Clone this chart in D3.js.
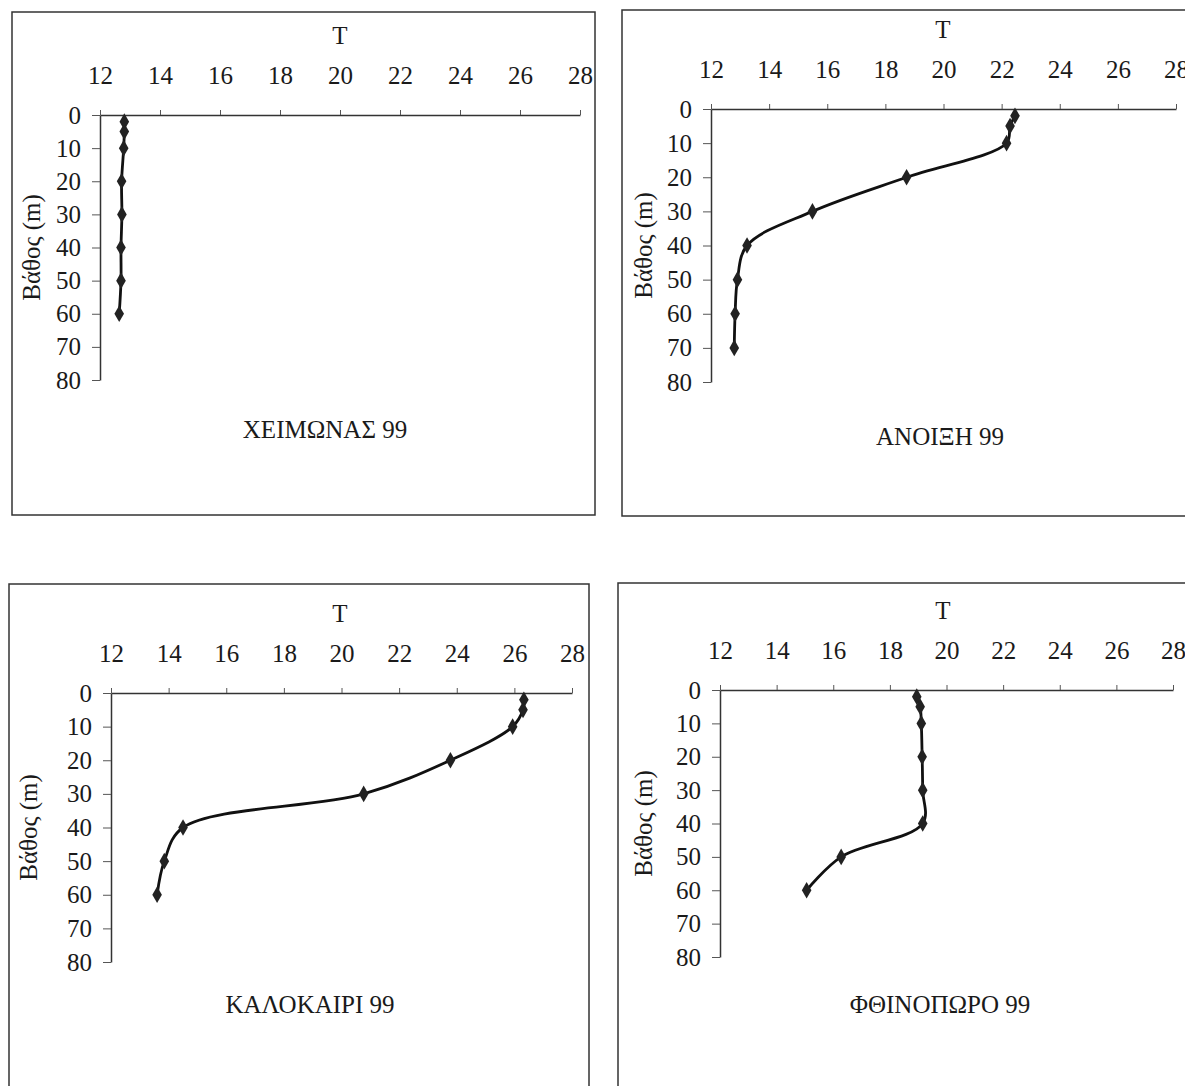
<!DOCTYPE html>
<html>
<head>
<meta charset="utf-8">
<script src="https://cdn.jsdelivr.net/npm/d3@7"></script>
<style>
  html, body { margin: 0; padding: 0; background: #fff; }
  svg { display: block; }
  text { font-family: "Liberation Serif", "Times New Roman", serif; fill: #1a1a1a; }
</style>
</head>
<body>
<svg id="chart" width="1185" height="1086"></svg>
<script>
// ---- data ----
const xTicks = [12, 14, 16, 18, 20, 22, 24, 26, 28];
const yTicks = [0, 10, 20, 30, 40, 50, 60, 70, 80];
const depthsWinter = [2, 5, 10, 20, 30, 40, 50, 60];
const tempWinter   = [12.81, 12.81, 12.79, 12.72, 12.73, 12.70, 12.70, 12.64];
const depthsSpring = [2, 5, 10, 20, 30, 40, 50, 60, 70];
const tempSpring   = [22.46, 22.29, 22.17, 18.73, 15.49, 13.24, 12.91, 12.83, 12.80];
const depthsSummer = [2, 5, 10, 20, 30, 40, 50, 60];
const tempSummer   = [26.33, 26.30, 25.94, 23.78, 20.77, 14.50, 13.85, 13.60];
const depthsAutumn = [2, 5, 10, 20, 30, 40, 50, 60];
const tempAutumn   = [18.95, 19.07, 19.11, 19.14, 19.16, 19.16, 16.28, 15.06];
const titles = ["ΧΕΙΜΩΝΑΣ 99", "ΑΝΟΙΞΗ 99", "ΚΑΛΟΚΑΙΡΙ 99", "ΦΘΙΝΟΠΩΡΟ 99"];
const xLabel = "T";
const yLabel = "Βάθος (m)";

// ---- layout (per panel) ----
const layouts = [
  { box: [12, 12, 583, 503],  x0: 100, x1: 580,  y0: 115, y1: 380, titleX: 325, titleY: 438, yLabX: 40,  tX: 340 },
  { box: [622, 10, 600, 506], x0: 711, x1: 1176, y0: 109, y1: 382, titleX: 940, titleY: 445, yLabX: 652, tX: 943 },
  { box: [9, 584, 580, 520],  x0: 111, x1: 572,  y0: 693, y1: 962, titleX: 310, titleY: 1013, yLabX: 37,  tX: 340 },
  { box: [618, 583, 600, 520], x0: 720, x1: 1173, y0: 690, y1: 957, titleX: 940, titleY: 1013, yLabX: 652, tX: 943 }
];
const series = [
  { d: depthsWinter, t: tempWinter },
  { d: depthsSpring, t: tempSpring },
  { d: depthsSummer, t: tempSummer },
  { d: depthsAutumn, t: tempAutumn }
];

const svg = d3.select("#chart");

layouts.forEach((L, i) => {
  const g = svg.append("g");
  g.append("rect")
    .attr("x", L.box[0]).attr("y", L.box[1])
    .attr("width", L.box[2]).attr("height", L.box[3])
    .attr("fill", "none").attr("stroke", "#333").attr("stroke-width", 1.5);

  const x = d3.scaleLinear().domain([12, 28]).range([L.x0, L.x1]);
  const y = d3.scaleLinear().domain([0, 80]).range([L.y0, L.y1]);

  const xAxis = g.append("g")
    .attr("transform", `translate(0,${L.y0})`)
    .call(d3.axisTop(x).tickValues(xTicks).tickSizeInner(5).tickSizeOuter(0).tickPadding(26).tickFormat(d3.format("d")));
  const yAxis = g.append("g")
    .attr("transform", `translate(${L.x0},0)`)
    .call(d3.axisLeft(y).tickValues(yTicks).tickSizeInner(8).tickSizeOuter(0).tickPadding(11).tickFormat(d3.format("d")));

  [xAxis, yAxis].forEach(a => {
    a.select(".domain").attr("stroke", "#333").attr("stroke-width", 1.5);
    a.selectAll(".tick line").attr("stroke", "#555").attr("stroke-width", 1);
    a.selectAll(".tick text").attr("font-size", 25).attr("fill", "#1a1a1a")
      .style("font-family", '"Liberation Serif", serif');
  });

  // axis title T
  g.append("text").attr("x", L.tX).attr("y", L.y0 - 71)
    .attr("text-anchor", "middle").attr("font-size", 25).text(xLabel);

  // y label
  const yc = (L.y0 + L.y1) / 2;
  g.append("text")
    .attr("transform", `translate(${L.yLabX},${yc}) rotate(-90)`)
    .attr("text-anchor", "middle").attr("font-size", 25).text(yLabel);

  // title
  g.append("text").attr("x", L.titleX)
    .attr("y", L.titleY).attr("text-anchor", "middle").attr("font-size", 25).text(titles[i]);

  // line
  const s = series[i];
  const pts = s.d.map((dv, k) => [s.t[k], dv]);
  const line = d3.line().x(p => x(p[0])).y(p => y(p[1])).curve(d3.curveCatmullRom.alpha(0.5));
  g.append("path").datum(pts).attr("d", line)
    .attr("fill", "none").attr("stroke", "#111").attr("stroke-width", 2.8);

  g.selectAll(".pt").data(pts).enter().append("path")
    .attr("transform", p => `translate(${x(p[0])},${y(p[1])})`)
    .attr("d", d3.symbol().type(d3.symbolDiamond).size(80))
    .attr("fill", "#222");
});
</script>
</body>
</html>
